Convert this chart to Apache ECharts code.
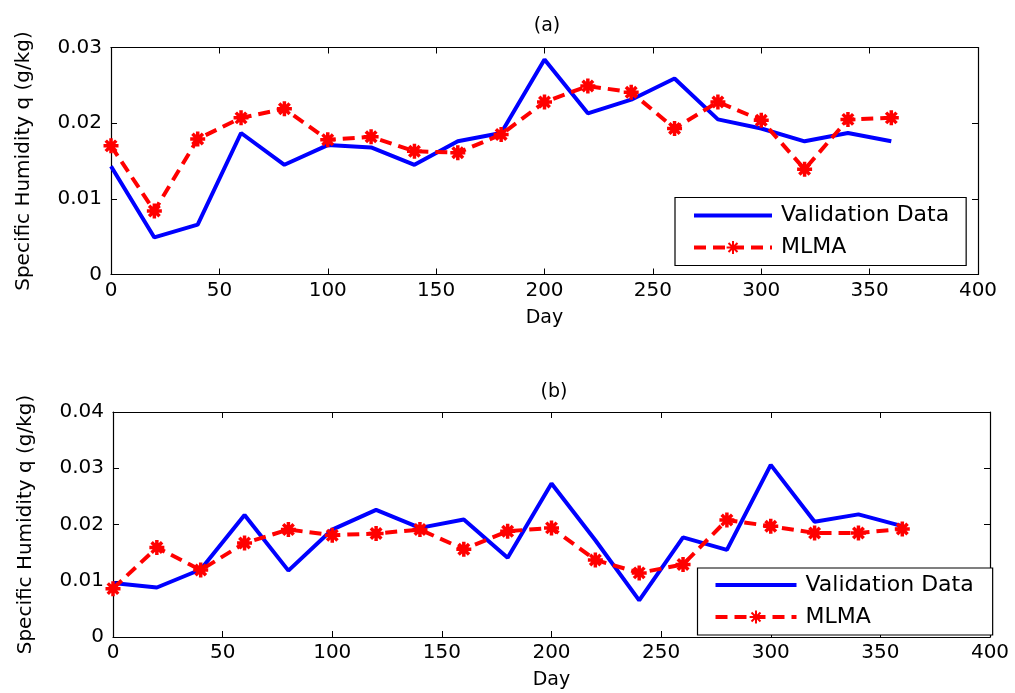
<!DOCTYPE html>
<html>
<head>
<meta charset="utf-8">
<script src="https://cdn.jsdelivr.net/npm/echarts@6/dist/echarts.min.js"></script>
<style>
  body { margin: 0; background: #fff; }
  #main { width: 1015px; height: 693px; }
</style>
</head>
<body>
<div id="main"></div>
<script>
// days sampled every 20
var days = [0, 20, 40, 60, 80, 100, 120, 140, 160, 180, 200, 220, 240, 260, 280, 300, 320, 340, 360];

// (a)
var validA = [0.0143, 0.0049, 0.0066, 0.0187, 0.0145, 0.0171, 0.0168, 0.0145, 0.0176, 0.0187,
  0.0284, 0.0213, 0.0231, 0.0259, 0.0205, 0.0193, 0.0176, 0.0187, 0.0176];
var mlmaA = [0.0170, 0.0084, 0.0179, 0.0207, 0.0219, 0.0178, 0.0182, 0.0163, 0.0161, 0.0185,
  0.0228, 0.0249, 0.0241, 0.0193, 0.0228, 0.0204, 0.0139, 0.0205, 0.0207];

// (b)
var validB = [0.0096, 0.0088, 0.0120, 0.0217, 0.0118, 0.0191, 0.0226, 0.0194, 0.0209, 0.0141,
  0.0273, 0.0172, 0.0065, 0.0177, 0.0155, 0.0306, 0.0205, 0.0218, 0.0197];
var mlmaB = [0.0086, 0.0159, 0.0119, 0.0167, 0.0191, 0.0181, 0.0184, 0.0191, 0.0156, 0.0188,
  0.0194, 0.0137, 0.0114, 0.0129, 0.0208, 0.0197, 0.0185, 0.0185, 0.0192];

var yMaxA = 0.03, yMaxB = 0.04;

function pairs(ys) {
  return days.map(function (d, i) { return [d, ys[i]]; });
}

var FONT = 'DejaVu Sans';
var star = 'path://M5,0L5,10M0,5L10,5M1.5,1.5L8.5,8.5M8.5,1.5L1.5,8.5';

function xAx(grid, pos, labels) {
  return {
    type: 'value', gridIndex: grid, position: pos, min: 0, max: 400, interval: 50,
    name: labels ? 'Day' : '', nameLocation: 'middle', nameGap: 34,
    nameTextStyle: { fontFamily: FONT, fontSize: 19, color: '#000' },
    axisLine: { show: true, onZero: false, lineStyle: { color: '#000', width: 1.2 } },
    axisTick: { show: true, inside: true, length: 6, lineStyle: { color: '#000' } },
    axisLabel: { show: labels, margin: 6, fontFamily: FONT, fontSize: 20, color: '#000' },
    splitLine: { show: false }
  };
}
function yAx(grid, pos, max, labels) {
  return {
    type: 'value', gridIndex: grid, position: pos, min: 0, max: max, interval: 0.01,
    name: labels ? 'Specific Humidity q (g/kg)' : '', nameLocation: 'middle', nameGap: 77, nameRotate: 90,
    nameTextStyle: { fontFamily: FONT, fontSize: 20, color: '#000' },
    axisLine: { show: true, onZero: false, lineStyle: { color: '#000', width: 1.2 } },
    axisTick: { show: true, inside: true, length: 6, lineStyle: { color: '#000' } },
    axisLabel: { show: labels, margin: 9, fontFamily: FONT, fontSize: 20, color: '#000' },
    splitLine: { show: false }
  };
}

function validSeries(ys, idx) {
  return {
    name: 'Validation Data', type: 'line', xAxisIndex: idx, yAxisIndex: idx,
    data: pairs(ys), showSymbol: false, symbol: 'none',
    lineStyle: { color: '#0000ff', width: 4 },
    itemStyle: { color: 'transparent', borderColor: 'transparent' },
    animation: false, z: 2
  };
}
function mlmaSeries(ys, idx) {
  return {
    name: 'MLMA', type: 'line', xAxisIndex: idx, yAxisIndex: idx,
    data: pairs(ys), symbol: star, symbolSize: 15,
    lineStyle: { color: '#ff0000', width: 4, type: [12, 7] },
    itemStyle: { color: '#ff0000', borderColor: '#ff0000', borderWidth: 3.5 },
    animation: false, z: 3
  };
}

function legendAt(left, top, w, pad) {
  return {
    orient: 'vertical', left: left, top: top, itemWidth: w, itemHeight: 16, itemGap: 10,
    padding: pad, borderColor: '#000', borderWidth: 1.2, backgroundColor: '#fff',
    lineStyle: { width: 4 },
    textStyle: { fontFamily: FONT, fontSize: 22, color: '#000', padding: [0, 0, 0, 4] },
    data: ['Validation Data', 'MLMA'], selectedMode: false
  };
}

var chart = echarts.init(document.getElementById('main'));
var option = {
  backgroundColor: '#fff',
  animation: false,
  title: [
    { text: '(a)', left: 542, top: 12, textAlign: 'center',
      textStyle: { fontFamily: FONT, fontSize: 19, fontWeight: 'normal', color: '#000' } },
    { text: '(b)', left: 549, top: 378, textAlign: 'center',
      textStyle: { fontFamily: FONT, fontSize: 19, fontWeight: 'normal', color: '#000' } }
  ],
  grid: [
    { left: 111, top: 47.5, width: 867, height: 227 },
    { left: 113, top: 412, width: 877, height: 225 }
  ],
  xAxis: [xAx(0, 'bottom', true), xAx(0, 'top', false), xAx(1, 'bottom', true), xAx(1, 'top', false)],
  yAxis: [yAx(0, 'left', yMaxA, true), yAx(0, 'right', yMaxA, false), yAx(1, 'left', yMaxB, true), yAx(1, 'right', yMaxB, false)],
  legend: [
    legendAt(675, 197.5, 78, [7, 17, 7, 17]),
    legendAt(697.5, 568, 81, [6, 19, 7, 16])
  ],
  series: [
    validSeries(validA, 0), mlmaSeries(mlmaA, 0),
    validSeries(validB, 2), mlmaSeries(mlmaB, 2)
  ]
};
option && chart.setOption(option);
</script>
</body>
</html>
